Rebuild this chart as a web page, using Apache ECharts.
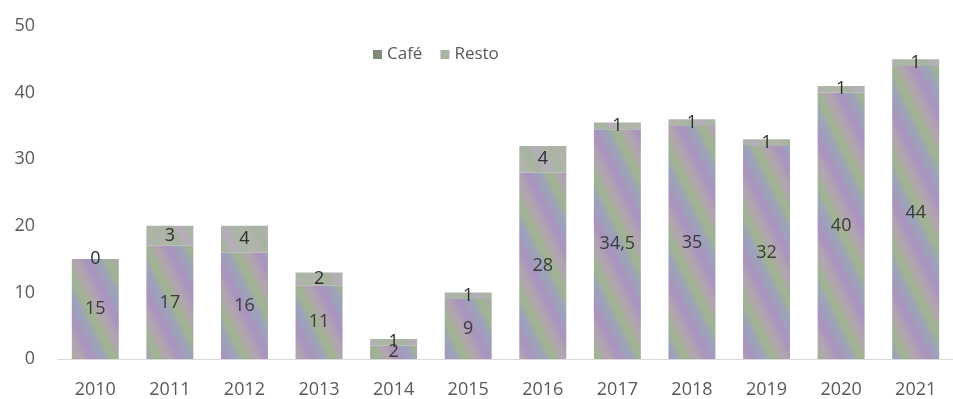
<!DOCTYPE html>
<html>
<head>
<meta charset="utf-8">
<script src="https://cdn.jsdelivr.net/npm/echarts@6/dist/echarts.min.js"></script>
<style>
  html, body { margin: 0; padding: 0; background: #ffffff; }
  #chart { width: 953px; height: 399px; }
</style>
</head>
<body>
<div id="chart"></div>
<script>
// Yearly counts, split into café and restaurant parts
const years = ['2010', '2011', '2012', '2013', '2014', '2015', '2016', '2017', '2018', '2019', '2020', '2021'];
const cafe  = [15, 17, 16, 11, 2, 9, 28, 34.5, 35, 32, 40, 44];
const resto = [0, 3, 4, 2, 1, 1, 4, 1, 1, 1, 1, 1];
const yTicks = [0, 10, 20, 30, 40, 50];

// Soft, steep diagonal stripes on a canvas tile (width P, height 2P) that repeats seamlessly
function stripeTile(stops) {
  const P = 44, H = 2 * P;
  const c = document.createElement('canvas');
  c.width = P; c.height = H;
  const ctx = c.getContext('2d');
  const img = ctx.createImageData(P, H);
  const n = stops.length;
  for (let y = 0; y < H; y++) {
    for (let x = 0; x < P; x++) {
      const u = ((x - y / 2) % P + P) % P;
      const t = u / P * n;
      const i = Math.floor(t), f = t - i;
      const a = stops[i % n], b = stops[(i + 1) % n];
      const s = f * f * (3 - 2 * f);
      const k = (y * P + x) * 4;
      for (let ch = 0; ch < 3; ch++) {
        img.data[k + ch] = Math.round(a[ch] + (b[ch] - a[ch]) * s);
      }
      img.data[k + 3] = 255;
    }
  }
  ctx.putImageData(img, 0, 0);
  return { image: c, repeat: 'repeat' };
}

const cafeFill = stripeTile([[170, 148, 190], [156, 162, 188], [160, 180, 146], [178, 164, 176]]);
const restoFill = stripeTile([[176, 180, 170], [166, 180, 158], [180, 174, 184], [170, 182, 164]]);

const fontFam = '"Open Sans", "Noto Sans", sans-serif';
const fmt = v => String(v).replace('.', ',');

const chart = echarts.init(document.getElementById('chart'), null, { renderer: 'canvas' });
chart.setOption({
  animation: false,
  backgroundColor: '#ffffff',
  grid: { left: 58, top: 26, width: 908, height: 333, containLabel: false },
  legend: {
    top: 41,
    left: 368,
    itemWidth: 9,
    itemHeight: 9,
    itemGap: 18,
    icon: 'rect',
    textStyle: { color: '#595959', fontSize: 17, fontFamily: fontFam },
    data: [
      { name: 'Café', itemStyle: { color: '#7f8c79' } },
      { name: 'Resto', itemStyle: { color: '#a9b4a3' } }
    ]
  },
  xAxis: {
    type: 'category',
    data: years,
    axisLine: { show: true, lineStyle: { color: '#d9d9d9', width: 1 } },
    axisTick: { show: false },
    axisLabel: { color: '#595959', fontSize: 18, fontFamily: fontFam, margin: 22 }
  },
  yAxis: {
    type: 'value',
    min: yTicks[0],
    max: yTicks[yTicks.length - 1],
    interval: 10,
    axisLine: { show: false },
    axisTick: { show: false },
    splitLine: { show: false },
    axisLabel: { color: '#595959', fontSize: 18, fontFamily: fontFam, margin: 23 }
  },
  series: [
    {
      name: 'Café',
      type: 'bar',
      stack: 'total',
      barWidth: '63%',
      data: cafe,
      itemStyle: { color: cafeFill },
      label: {
        show: true, position: 'inside', color: '#3a3a3a',
        fontSize: 18, fontFamily: fontFam, formatter: p => fmt(p.value)
      }
    },
    {
      name: 'Resto',
      type: 'bar',
      stack: 'total',
      barWidth: '63%',
      data: resto,
      itemStyle: { color: restoFill },
      label: {
        show: true, position: 'inside', color: '#2e2e2e',
        fontSize: 18, fontFamily: fontFam, formatter: p => fmt(p.value)
      }
    }
  ]
});
</script>
</body>
</html>
